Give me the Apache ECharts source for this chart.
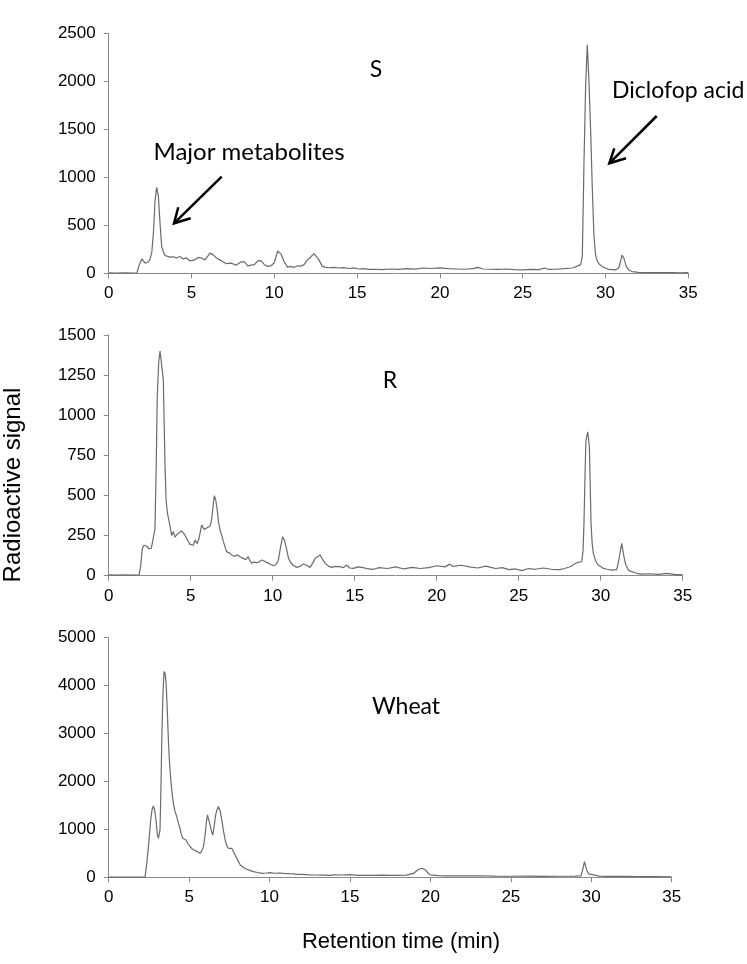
<!DOCTYPE html>
<html>
<head>
<meta charset="utf-8">
<script src="https://cdn.jsdelivr.net/npm/echarts/dist/echarts.min.js"></script>
<style>
html,body{margin:0;padding:0;background:#fff;}
#chart{width:747px;height:964px;}
</style>
</head>
<body>
<div id="chart"></div>
<script>
// ---- Data (retention time in min, radioactive signal) ----
const xTicks = [0, 5, 10, 15, 20, 25, 30, 35];

const sTime = [0,0.5,1.0,1.5,1.7,1.85,2.0,2.1,2.2,2.3,2.4,2.5,2.6,2.7,2.8,2.9,3.0,3.1,3.2,3.3,3.4,3.5,3.7,3.9,4.1,4.3,4.5,4.7,4.9,5.0,5.2,5.4,5.6,5.8,6.0,6.1,6.3,6.5,6.7,6.9,7.1,7.2,7.4,7.5,7.7,7.8,8.0,8.2,8.4,8.6,8.8,9.0,9.2,9.4,9.6,9.8,10.0,10.2,10.4,10.6,10.8,11.0,11.2,11.4,11.6,11.8,12.0,12.2,12.4,12.5,12.7,12.9,13.1,13.3,13.6,13.9,14.2,14.5,14.8,15.1,15.4,15.7,16.0,16.5,17.0,17.5,18.0,18.5,19.0,19.5,20.0,20.5,21.0,21.5,22.0,22.3,22.6,23.0,23.5,24.0,24.5,25.0,25.5,26.0,26.3,26.6,27.0,27.5,28.0,28.3,28.5,28.6,28.7,28.8,28.9,29.0,29.1,29.2,29.3,29.4,29.5,29.6,29.8,30.0,30.2,30.4,30.6,30.8,30.9,31.0,31.1,31.25,31.4,31.6,32.0,32.5,33.0,33.5,34.0,34.5,35.0];
const sSignal = [5,3,4,3,5,90,150,135,105,115,120,150,215,420,760,895,800,520,280,225,185,175,168,172,160,175,150,160,130,128,140,165,160,138,185,210,195,160,140,120,100,88,105,110,85,80,120,118,78,85,90,130,132,90,72,78,110,232,200,120,65,72,60,78,75,90,140,170,205,195,140,72,62,58,62,55,60,50,56,45,48,40,42,38,45,40,48,44,55,50,56,48,45,42,48,62,45,42,40,45,38,35,40,38,55,40,42,48,55,75,90,180,1150,1950,2380,2000,1500,900,400,190,130,100,70,55,40,38,35,55,120,190,160,75,35,18,10,8,7,6,8,5,6];

const rTime = [0,0.5,1.0,1.5,1.85,1.95,2.05,2.15,2.3,2.45,2.6,2.72,2.82,2.9,2.96,3.05,3.13,3.23,3.33,3.43,3.5,3.58,3.7,3.84,3.94,4.04,4.15,4.25,4.45,4.55,4.65,4.86,4.96,5.06,5.16,5.26,5.4,5.5,5.57,5.67,5.81,5.95,6.07,6.18,6.28,6.37,6.44,6.53,6.62,6.7,6.79,6.9,6.99,7.1,7.19,7.3,7.4,7.55,7.7,7.85,8.0,8.1,8.21,8.35,8.51,8.6,8.72,8.85,9.02,9.15,9.33,9.5,9.63,9.8,10.04,10.2,10.35,10.48,10.61,10.72,10.86,10.96,11.06,11.25,11.47,11.7,11.88,12.05,12.28,12.45,12.59,12.75,12.89,13.05,13.2,13.4,13.6,13.85,14.11,14.3,14.52,14.7,14.92,15.2,15.53,15.8,16.14,16.5,17.0,17.5,18.0,18.5,19.0,19.5,20.0,20.5,20.8,21.0,21.5,22.0,22.5,23.0,23.3,23.6,24.0,24.4,24.8,25.2,25.6,26.0,26.5,27.0,27.5,27.8,28.13,28.54,28.84,28.92,28.98,29.05,29.10,29.21,29.31,29.41,29.48,29.55,29.7,29.85,30.16,30.4,30.67,30.97,31.05,31.14,31.28,31.35,31.42,31.52,31.69,31.9,32.2,32.5,33.0,33.5,34.0,34.5,35.0];
const rSignal = [5,3,6,4,5,60,170,190,185,168,172,160,290,700,1115,1330,1400,1406,1220,700,470,390,330,250,275,240,255,260,280,270,253,212,195,200,190,222,200,230,265,316,289,295,285,310,350,440,498,470,409,330,285,250,212,200,150,145,139,125,122,130,118,112,108,100,118,95,77,85,81,85,98,90,83,75,62,70,98,180,243,220,160,110,87,65,52,60,73,65,52,80,108,120,129,100,77,60,52,58,56,50,66,48,46,55,50,42,40,50,45,55,42,52,45,50,62,55,72,58,65,55,48,60,52,45,50,38,42,32,45,40,48,40,38,45,56,81,87,150,326,650,845,897,804,326,200,139,90,66,46,40,35,38,70,118,201,160,118,70,35,25,15,10,12,8,14,8,5];

const wTime = [0,0.5,1.0,1.5,2.0,2.26,2.37,2.47,2.61,2.7,2.78,2.86,2.94,3.02,3.09,3.15,3.19,3.25,3.3,3.37,3.44,3.51,3.57,3.64,3.71,3.78,3.86,3.94,4.02,4.12,4.23,4.32,4.4,4.5,4.6,4.7,4.81,4.93,5.06,5.2,5.37,5.5,5.68,5.8,5.89,6.0,6.07,6.14,6.22,6.3,6.4,6.47,6.55,6.63,6.72,6.82,6.92,7.03,7.13,7.24,7.34,7.44,7.55,7.65,7.75,7.86,7.96,8.07,8.17,8.27,8.4,8.59,8.8,9.0,9.25,9.52,9.8,10.04,10.3,10.6,10.87,11.2,11.5,11.7,12.0,12.5,12.94,13.3,13.77,14.0,14.5,15.0,15.5,16.0,16.5,17.0,17.5,18.0,18.5,18.96,19.27,19.48,19.69,19.85,20.0,20.5,21.0,22.0,23.0,24.0,25.0,26.0,27.0,28.0,29.0,29.37,29.48,29.58,29.66,29.75,29.85,29.96,30.5,31.0,32.0,33.0,34.0,35.0];
const wSignal = [5,3,5,4,3,5,300,640,1196,1420,1488,1400,1196,900,814,850,988,1900,2866,3800,4292,4250,4049,3500,2866,2400,2031,1750,1544,1380,1266,1150,1057,920,814,830,779,700,640,590,557,540,501,560,640,900,1150,1301,1200,1092,950,883,1050,1266,1400,1475,1400,1196,980,779,660,605,620,605,540,466,400,327,260,222,200,167,140,118,100,83,90,97,85,90,83,75,70,63,60,52,48,45,41,50,48,55,40,42,40,45,40,42,45,83,167,188,153,90,49,35,30,28,32,25,22,25,20,22,25,28,180,327,220,118,70,42,25,20,18,15,15,12];

const panelNames = ['S', 'R', 'Wheat'];
const yMax = [2500, 1500, 5000];
const yStep = [500, 250, 1000];

const toPairs = (t, v) => t.map((x, i) => [x, v[i]]);
const seriesData = [toPairs(sTime, sSignal), toPairs(rTime, rSignal), toPairs(wTime, wSignal)];

// ---- Layout ----
const grids = [
  {left: 108.7, top: 33.3, width: 579.6, height: 240},
  {left: 108.7, top: 335, width: 574, height: 240.7},
  {left: 108.7, top: 637.7, width: 563, height: 239.6}
];
const axisColor = '#8a8a8a';
const labelFont = {color: '#000', fontFamily: 'Liberation Sans, Arial, sans-serif', fontSize: 17, formatter: v => String(v)};

const chart = echarts.init(document.getElementById('chart'), null, {renderer: 'canvas'});

const xAxes = grids.map((g, i) => ({
  type: 'value', gridIndex: i, min: 0, max: 35, interval: 5,
  axisLine: {show: true, lineStyle: {color: axisColor, width: 1}},
  axisTick: {show: true, inside: false, length: 5, lineStyle: {color: axisColor}},
  axisLabel: Object.assign({margin: 12}, labelFont),
  splitLine: {show: false}
}));
const yAxes = grids.map((g, i) => ({
  type: 'value', gridIndex: i, min: 0, max: yMax[i], interval: yStep[i],
  axisLine: {show: true, lineStyle: {color: axisColor, width: 1}},
  axisTick: {show: true, inside: false, length: 5, lineStyle: {color: axisColor}},
  axisLabel: Object.assign({margin: 13}, labelFont),
  splitLine: {show: false}
}));
const series = seriesData.map((d, i) => ({
  type: 'line', xAxisIndex: i, yAxisIndex: i, data: d,
  showSymbol: false, symbol: 'none', smooth: false,
  lineStyle: {color: '#6b6b6b', width: 1.2},
  animation: false
}));

const annFont = 'Lato, "Open Sans", sans-serif';
function txt(x, y, s, size, align) {
  return {type: 'text', x: x, y: y, style: {text: s, fill: '#000', font: size + 'px ' + annFont, textAlign: align || 'center', textVerticalAlign: 'middle'}};
}
function arrow(x1, y1, x2, y2, a1, a2) {
  return [
    {type: 'line', shape: {x1: x1, y1: y1, x2: x2, y2: y2}, style: {stroke: '#000', lineWidth: 2.5}},
    {type: 'polyline', shape: {points: [a1, [x2, y2], a2]}, style: {stroke: '#000', lineWidth: 2.5, fill: null}}
  ];
}

const graphic = [
  txt(376, 70, panelNames[0], 23),
  txt(390, 381, panelNames[1], 23),
  txt(406, 707, panelNames[2], 23),
  txt(249, 152, 'Major metabolites', 24),
  txt(612, 91, 'Diclofop acid', 23, 'left'),
  ...arrow(221.7, 176.7, 174, 223.3, [178.3, 207.3], [190.7, 218.3]),
  ...arrow(656.7, 116, 609.3, 163.3, [614.3, 148.3], [626, 158.3]),
  {type: 'text', x: 13, y: 485, rotation: Math.PI / 2,
   style: {text: 'Radioactive signal', fill: '#000', font: '24px "Liberation Sans", Arial, sans-serif', textAlign: 'center', textVerticalAlign: 'middle'}},
  {type: 'text', x: 401, y: 942,
   style: {text: 'Retention time (min)', fill: '#000', font: '22px "Liberation Sans", Arial, sans-serif', textAlign: 'center', textVerticalAlign: 'middle'}}
];

chart.setOption({
  animation: false,
  backgroundColor: '#fff',
  grid: grids,
  xAxis: xAxes,
  yAxis: yAxes,
  series: series,
  graphic: graphic
});
</script>
</body>
</html>
